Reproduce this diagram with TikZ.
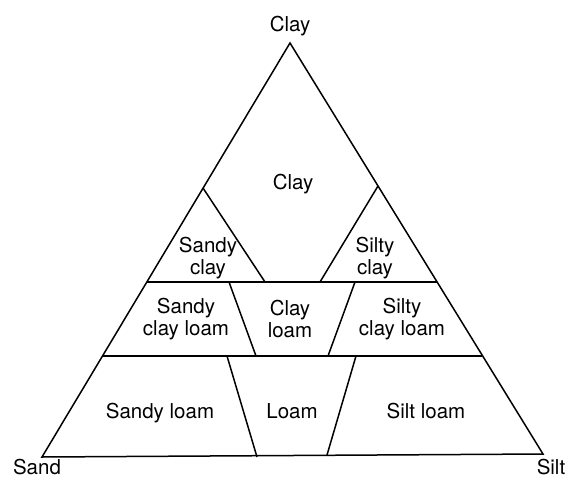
\documentclass[tikz,border=0pt]{standalone}
\usepackage{fontspec}
\setmainfont{TeX Gyre Heros}

\begin{document}
\begin{tikzpicture}[
  x=1pt,y=-1pt,font=\fontsize{20.5}{22.5}\selectfont,
  edge/.style={line width=1.5pt,line join=miter},
  soil/.style={align=center,inner sep=0pt},
  corner/.style={inner sep=0pt,anchor=base}]
  \useasboundingbox (0,0) rectangle (575,479);
  % corners of the triangle
  \coordinate (clay) at (290,43);
  \coordinate (sand) at (42,457);
  \coordinate (silt) at (543,454);
  % points on the two sides
  \coordinate (scl) at (203,188);
  \coordinate (sil) at (378,186);
  \coordinate (l1) at (147,282);
  \coordinate (r1) at (437,282);
  \coordinate (l2) at (103,356);
  \coordinate (r2) at (482,356);
  % points on the inner lines
  \coordinate (a1) at (265,282);
  \coordinate (b1) at (320,282);
  \coordinate (c1) at (229,282);
  \coordinate (d1) at (355,282);
  \coordinate (c2) at (256,356);
  \coordinate (d2) at (328,356);
  \coordinate (e2) at (227,356);
  \coordinate (f2) at (356,356);
  \coordinate (e3) at (257,457);
  \coordinate (f3) at (327,455);

  \draw[edge] (sand) -- (clay) -- (silt) -- cycle;
  \draw[edge] (l1) -- (r1);
  \draw[edge] (l2) -- (r2);
  \draw[edge] (scl) -- (a1);
  \draw[edge] (sil) -- (b1);
  \draw[edge] (c1) -- (c2);
  \draw[edge] (d1) -- (d2);
  \draw[edge] (e2) -- (e3);
  \draw[edge] (f2) -- (f3);

  % corner names
  \node[corner] (claylab) at (290,31) {Clay};
  \node[corner] (sandlab) at (37,474) {Sand};
  \node[corner] (siltlab) at (551,474) {Silt};

  % classes
  \node[corner] (clayreg) at (293,189) {Clay};
  \node[soil] (sandyclay) at (208,258) {Sandy\\clay};
  \node[soil] (siltyclay) at (375,258) {Silty\\clay};
  \node[soil] (sandyclayloam) at (186,319) {Sandy\\clay loam};
  \node[soil] (clayloam) at (290,319) {Clay\\loam};
  \node[soil] (siltyclayloam) at (402,319) {Silty\\clay loam};
  \node[corner] (sandyloam) at (160,418) {Sandy loam};
  \node[corner] (loam) at (292,418) {Loam};
  \node[corner] (siltloam) at (426,418) {Silt loam};
\end{tikzpicture}
\end{document}
